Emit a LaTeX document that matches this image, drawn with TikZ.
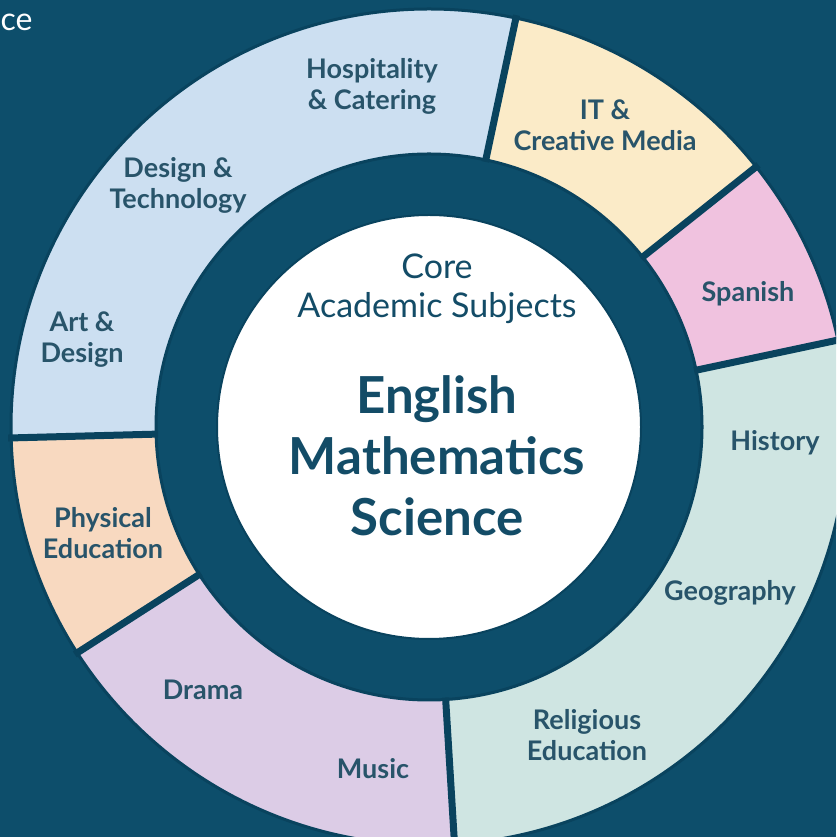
\documentclass[tikz,border=0pt]{standalone}
\usepackage{fontspec}
\setmainfont{Lato}
\definecolor{bg}{HTML}{0D4E6B}
\definecolor{edge}{HTML}{09435E}
\definecolor{cblue}{HTML}{CCDFF1}
\definecolor{cyellow}{HTML}{FBEBC8}
\definecolor{cpink}{HTML}{F0C2DF}
\definecolor{cteal}{HTML}{CFE5E2}
\definecolor{cpurple}{HTML}{DCCCE6}
\definecolor{cpeach}{HTML}{F8D9C0}
\definecolor{txt}{HTML}{28546A}
\definecolor{ctxt}{HTML}{134C67}
\newcommand\ringsector[3]{%
  \fill[#3] (#1:418pt) arc[start angle=#1,end angle=#2,radius=418pt]
    -- (#2:273pt) arc[start angle=#2,end angle=#1,radius=273pt] -- cycle;}
\tikzset{
  seglabel/.style={text=txt, font=\fontsize{27}{31}\selectfont\bfseries, align=center, inner sep=0pt},
  corelabel/.style={text=ctxt, font=\fontsize{34}{39}\selectfont, align=center, inner sep=0pt},
  biglabel/.style={text=ctxt, font=\fontsize{51}{61}\selectfont\bfseries, align=center, inner sep=0pt},
  seprule/.style={draw=edge, line width=7pt},
  rimline/.style={draw=edge, line width=3pt},
}
\begin{document}
\begin{tikzpicture}[x=1pt,y=1pt]
\useasboundingbox (0,0) rectangle (836,837);
\clip (0,0) rectangle (836,837);
\fill[bg] (0,0) rectangle (836,837);
\begin{scope}[shift={(429,410)}]
  \ringsector{78}{181.5}{cblue}
  \ringsector{38.5}{78}{cyellow}
  \ringsector{12}{38.5}{cpink}
  \ringsector{-86.5}{12}{cteal}
  \ringsector{212.7}{273.5}{cpurple}
  \ringsector{181.5}{212.7}{cpeach}
  \draw[rimline] (0,0) circle[radius=418pt];
  \draw[rimline] (0,0) circle[radius=273pt];
  \foreach \a in {78,38.5,12,-86.5,212.7,181.5}
    \draw[seprule] (\a:271pt) -- (\a:421pt);
  \fill[white] (0,0) circle[radius=212pt];
  \draw[edge, line width=2pt] (0,0) circle[radius=212pt];
\end{scope}
\node[seglabel] (hosp) at (372,751) {Hospitality\\\& Catering};
\node[seglabel] (dt) at (178,652) {Design \&\\Technology};
\node[seglabel] (ad) at (82,497) {Art \&\\Design};
\node[seglabel] (it) at (605,712) {IT \&\\Creative Media};
\node[seglabel] (sp) at (748,543) {Spanish};
\node[seglabel] (hist) at (775,394) {History};
\node[seglabel] (geo) at (730,244) {Geography};
\node[seglabel] (re) at (587,102) {Religious\\Education};
\node[seglabel] (mus) at (373,68) {Music};
\node[seglabel] (dra) at (203,147) {Drama};
\node[seglabel] (pe) at (103,304) {Physical\\Education};
\node[corelabel] (core) at (437,548) {Core\\Academic Subjects};
\node[biglabel] (big) at (437,381) {English\\Mathematics\\Science};
\node[text=white, font=\fontsize{32}{38}\selectfont, anchor=west, inner sep=0pt] (ce) at (0.5,815) {ce};
\end{tikzpicture}
\end{document}
